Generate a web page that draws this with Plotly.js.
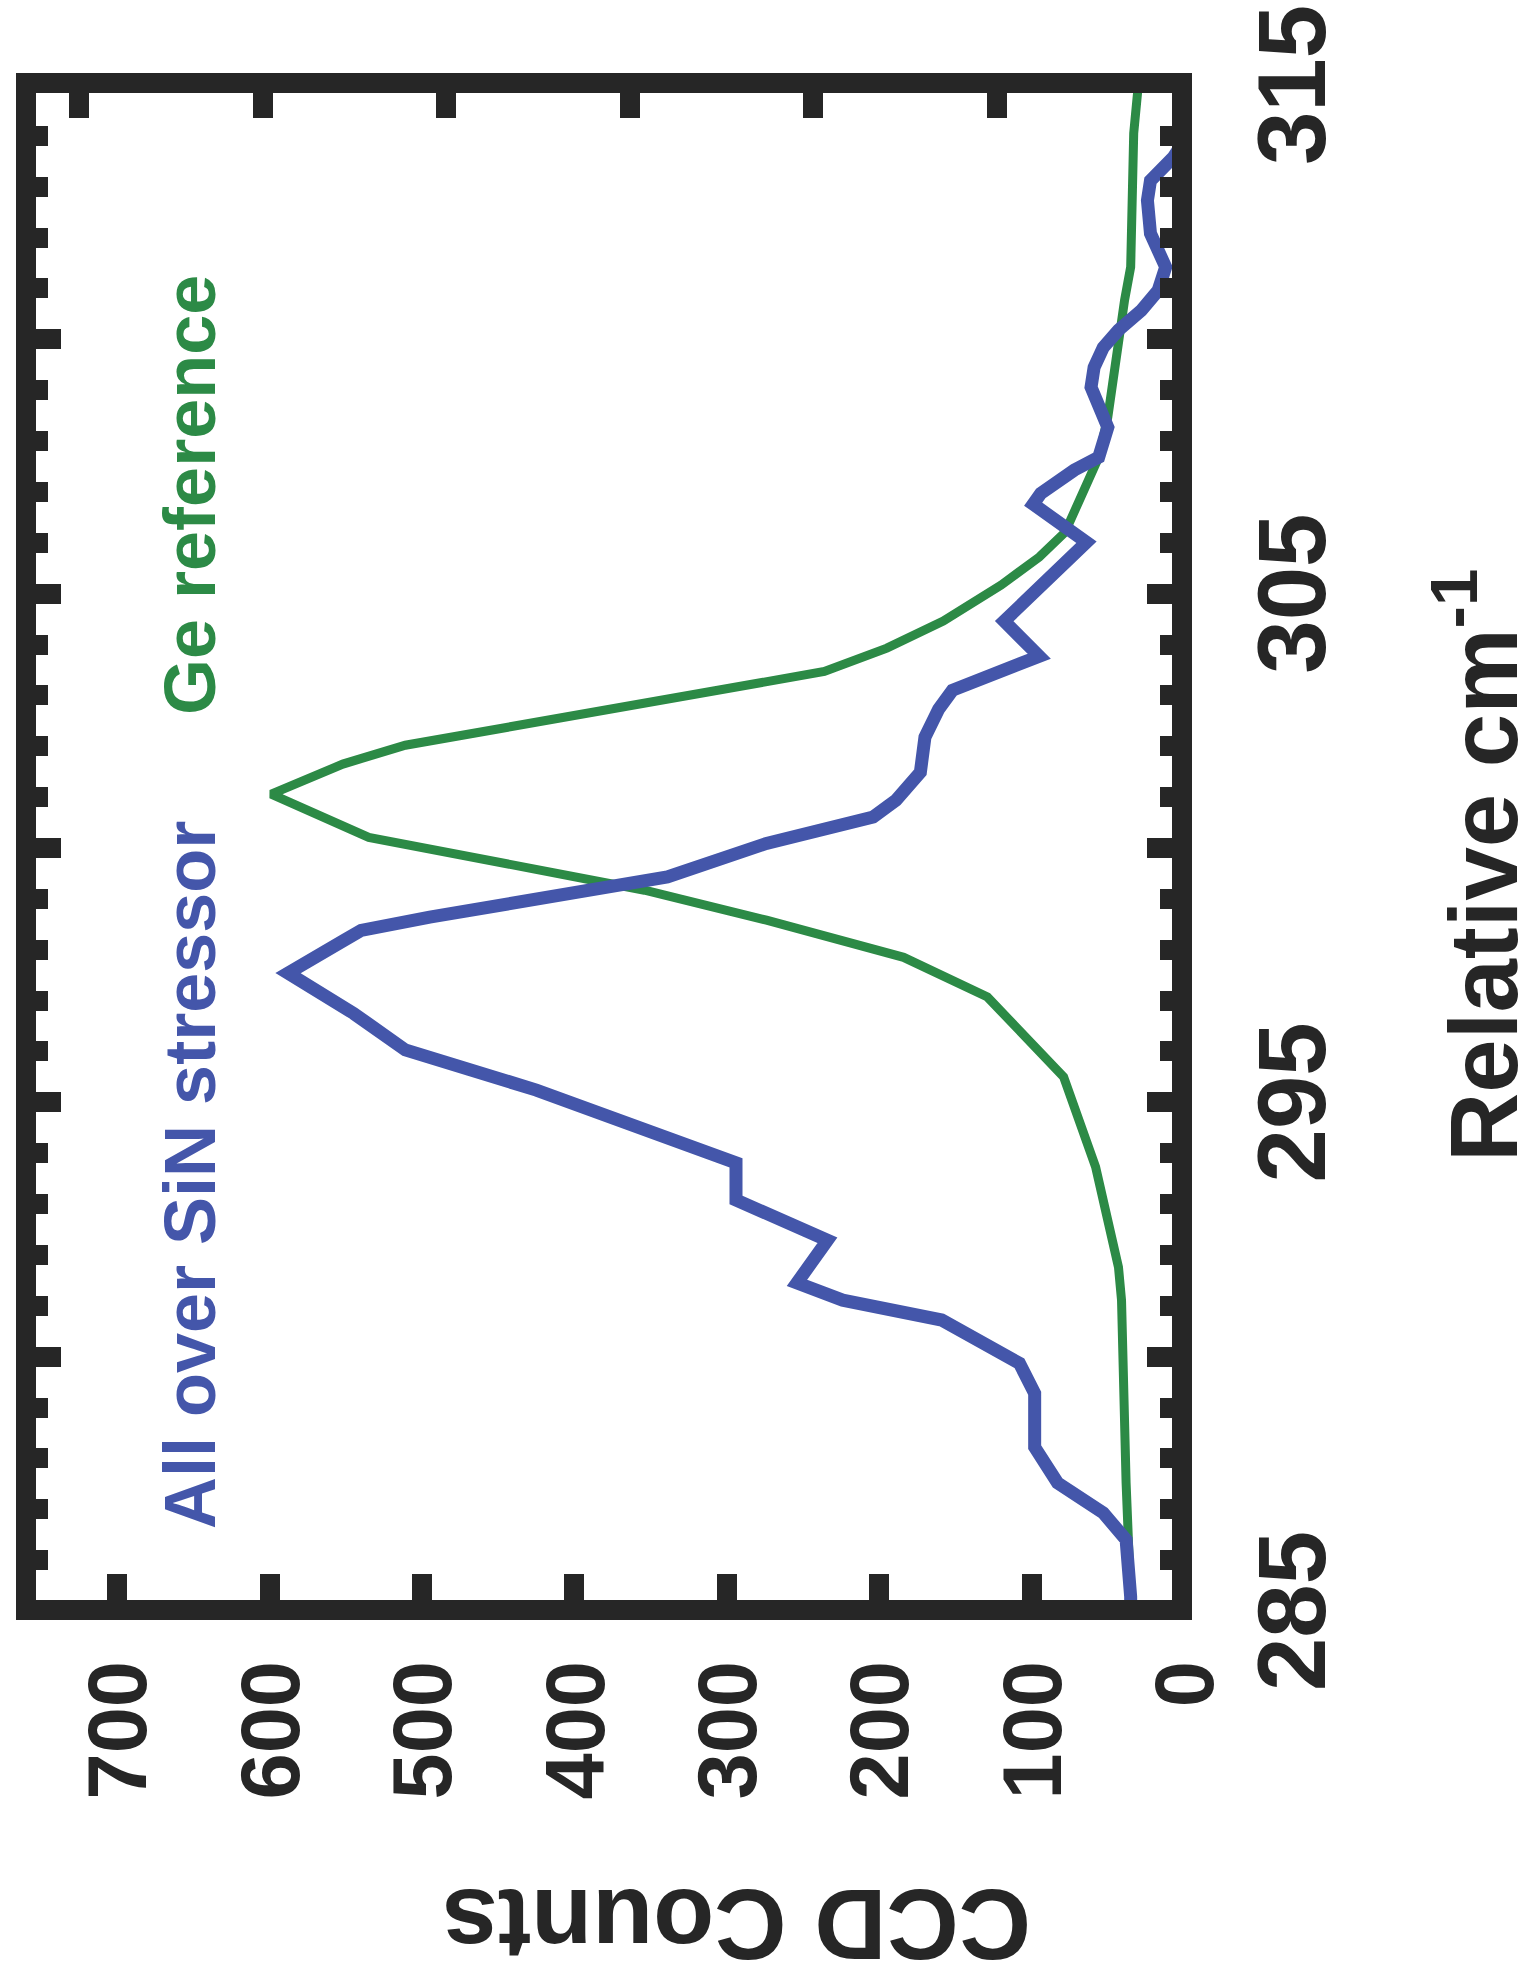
<!DOCTYPE html>
<html>
<head>
<meta charset="utf-8">
<script src="https://cdn.plot.ly/plotly-3.0.1.min.js"></script>
<style>
  html, body { margin: 0; padding: 0; width: 1540px; height: 1986px; overflow: hidden; background: #ffffff; }
  #wrap { position: absolute; left: 0; top: 0; width: 1986px; height: 1540px;
          transform-origin: 0 0; transform: translate(0px, 1986px) rotate(-90deg); }
</style>
</head>
<body>
<div id="wrap"></div>
<script>
// ---------------- data ----------------
const blueName = 'All over SiN stressor';
const blueWavenumber = [285.00, 285.28, 286.40, 286.93, 287.52, 288.22, 289.28, 289.87, 290.72, 291.11,
  291.45, 292.29, 293.08, 293.81, 295.24, 296.03, 296.75, 297.54, 298.19, 298.38,
  298.64, 298.97, 299.23, 299.43, 300.09, 300.61, 300.94, 301.49, 302.18, 302.73,
  303.10, 303.77, 304.46, 306.01, 306.76, 306.97, 307.43, 307.68, 308.27, 308.80,
  309.06, 309.45, 309.84, 310.18, 310.57, 310.96, 311.42, 312.08, 312.73, 313.12,
  313.58, 313.90];
const blueCounts = [35, 35, 38, 53, 83, 98, 98, 108, 159, 224,
  254, 234, 294, 294, 425, 511, 545, 588, 551, 540,
  495, 425, 375, 339, 274, 204, 189, 173, 170, 161,
  152, 95, 118, 64, 99, 94, 72, 56, 50, 56,
  61, 59, 53, 43, 28, 17, 12, 22, 24, 22,
  7, 0];

const greenName = 'Ge reference';
const greenWavenumber = [285.00, 285.28, 287.52, 289.21, 290.13, 291.11, 291.76, 293.73, 295.50, 297.07,
  297.85, 298.58, 299.17, 299.37, 300.21, 301.06, 301.65, 302.02, 303.47, 303.93,
  304.46, 305.17, 305.72, 306.21, 306.97, 307.68, 308.47, 309.14, 310.12, 310.77,
  311.42, 314.05, 315.00];
const greenCounts = [35, 35, 38, 39, 40, 41, 43, 58, 79, 129,
  184, 274, 354, 390, 535, 599, 552, 511, 236, 195,
  158, 120, 95, 78, 66, 56, 50, 47, 43, 39,
  35, 33, 30];

const wavenumberTickLabels = [285, 295, 305, 315];
const countTickLabels = [0, 100, 200, 300, 400, 500, 600, 700];
const xTitle = 'Relative cm<sup>-1</sup>';
const yTitle = 'CCD Counts';

// ---------------- layout geometry (figure drawn unrotated, then turned 90° ccw) ----------------
const FIG_W = 1986, FIG_H = 1540;
const M = { l: 375, r: 85, t: 36, b: 356 };
const paperW = FIG_W - M.l - M.r, paperH = FIG_H - M.t - M.b;
const W_LO = 285, W_HI = 315;
const pxPerW = paperW / (W_HI - W_LO);
const pxPerC = 1.5238;
const zeroPx = FIG_H - M.b;                       // pixel row of 0 counts
const FRAME = { left: 386, right: 1893, top: 36, bottom: 1172 };  // inner frame edges
const xDom = [(FRAME.left - M.l) / paperW, (FRAME.right - M.l) / paperW];
const xRng = [W_LO + (FRAME.left - M.l) / pxPerW, W_LO + (FRAME.right - M.l) / pxPerW];
const yDom = [(zeroPx - FRAME.bottom) / paperH, (zeroPx - FRAME.top) / paperH];
const yRng = [(zeroPx - FRAME.bottom) / pxPerC, (zeroPx - FRAME.top) / pxPerC];
const y2Rng = [0, paperH / pxPerC];
// right-hand frame ticks follow their own spacing
const rZero = 1180.6, rPer100 = 183.6;
const y3Rng = [(rZero - FRAME.bottom) / rPer100 * 100, (rZero - FRAME.top) / rPer100 * 100];

const px2paperX = x => (x - M.l) / paperW;
const px2paperY = y => (zeroPx - y) / paperH;

const FONT = 'Liberation Sans, Arial, Helvetica, sans-serif';
const INK = '#262626';
const BLUE = '#4456aa';
const GREEN = '#2c8a46';

const traces = [
  { x: greenWavenumber, y: greenCounts, name: greenName, type: 'scatter', mode: 'lines',
    line: { color: GREEN, width: 9 }, xaxis: 'x', yaxis: 'y', hoverinfo: 'skip' },
  { x: blueWavenumber, y: blueCounts, name: blueName, type: 'scatter', mode: 'lines',
    line: { color: BLUE, width: 13 }, xaxis: 'x', yaxis: 'y', hoverinfo: 'skip' },
  { x: [], y: [], xaxis: 'x2', yaxis: 'y', type: 'scatter', mode: 'lines', hoverinfo: 'skip' },
  { x: [], y: [], xaxis: 'x', yaxis: 'y2', type: 'scatter', mode: 'lines', hoverinfo: 'skip' },
  { x: [], y: [], xaxis: 'x', yaxis: 'y3', type: 'scatter', mode: 'lines', hoverinfo: 'skip' }
];

const layout = {
  width: FIG_W, height: FIG_H,
  margin: M,
  paper_bgcolor: '#ffffff', plot_bgcolor: 'rgba(0,0,0,0)',
  showlegend: false,
  font: { family: FONT, color: INK },
  xaxis: {
    domain: xDom, range: xRng, anchor: 'y',
    showline: true, linewidth: 20, linecolor: INK, mirror: 'ticks',
    ticks: 'inside', tickmode: 'linear', tick0: 285, dtick: 5, ticklen: 25, tickwidth: 20, tickcolor: INK,
    minor: { ticks: 'inside', tickmode: 'linear', tick0: 285, dtick: 1, ticklen: 12, tickwidth: 20, tickcolor: INK, showgrid: false },
    showticklabels: false, showgrid: false, zeroline: false
  },
  xaxis2: {
    domain: [0, 1], range: [W_LO, W_HI], anchor: 'y',
    tickmode: 'array', tickvals: wavenumberTickLabels, ticktext: wavenumberTickLabels.map(String),
    ticks: '', showline: false, showgrid: false, zeroline: false,
    tickfont: { family: FONT, size: 96, color: INK, weight: 'bold' },
    ticklabelstandoff: 56
  },
  yaxis: {
    domain: yDom, range: yRng, anchor: 'x',
    showline: true, linewidth: 20, linecolor: INK, mirror: true,
    ticks: 'inside', tickmode: 'linear', tick0: 0, dtick: 100, ticklen: 26, tickwidth: 20, tickcolor: INK,
    showticklabels: false, showgrid: false, zeroline: false
  },
  yaxis2: {
    domain: [0, 1], range: y2Rng, anchor: 'x', side: 'left',
    tickmode: 'array', tickvals: countTickLabels, ticktext: countTickLabels.map(String),
    ticks: '', showline: false, showgrid: false, zeroline: false,
    tickfont: { family: FONT, size: 83, color: INK, weight: 'bold' },
    ticklabelstandoff: 60
  },
  yaxis3: {
    overlaying: 'y', side: 'right', anchor: 'x', range: y3Rng,
    ticks: 'inside', tickmode: 'linear', tick0: 0, dtick: 100, ticklen: 25, tickwidth: 20, tickcolor: INK,
    showticklabels: false, showline: false, showgrid: false, zeroline: false
  },
  annotations: [
    { text: yTitle, xref: 'paper', yref: 'paper', x: px2paperX(61), y: px2paperY(737), xanchor: 'center', yanchor: 'middle',
      textangle: -90, showarrow: false, font: { family: FONT, size: 100, color: INK, weight: 'bold' } },
    { text: xTitle, xref: 'paper', yref: 'paper', x: px2paperX(1120), y: px2paperY(1476), xanchor: 'center', yanchor: 'middle',
      showarrow: false, font: { family: FONT, size: 96, color: INK, weight: 'bold' } },
    { text: blueName, xref: 'paper', yref: 'paper', x: px2paperX(811), y: px2paperY(190), xanchor: 'center', yanchor: 'middle',
      showarrow: false, font: { family: FONT, size: 72, color: BLUE, weight: 'bold' } },
    { text: greenName, xref: 'paper', yref: 'paper', x: px2paperX(1491), y: px2paperY(190), xanchor: 'center', yanchor: 'middle',
      showarrow: false, font: { family: FONT, size: 72, color: GREEN, weight: 'bold' } }
  ]
};

Plotly.newPlot('wrap', traces, layout, { staticPlot: true, displayModeBar: false, responsive: false });
</script>
</body>
</html>
